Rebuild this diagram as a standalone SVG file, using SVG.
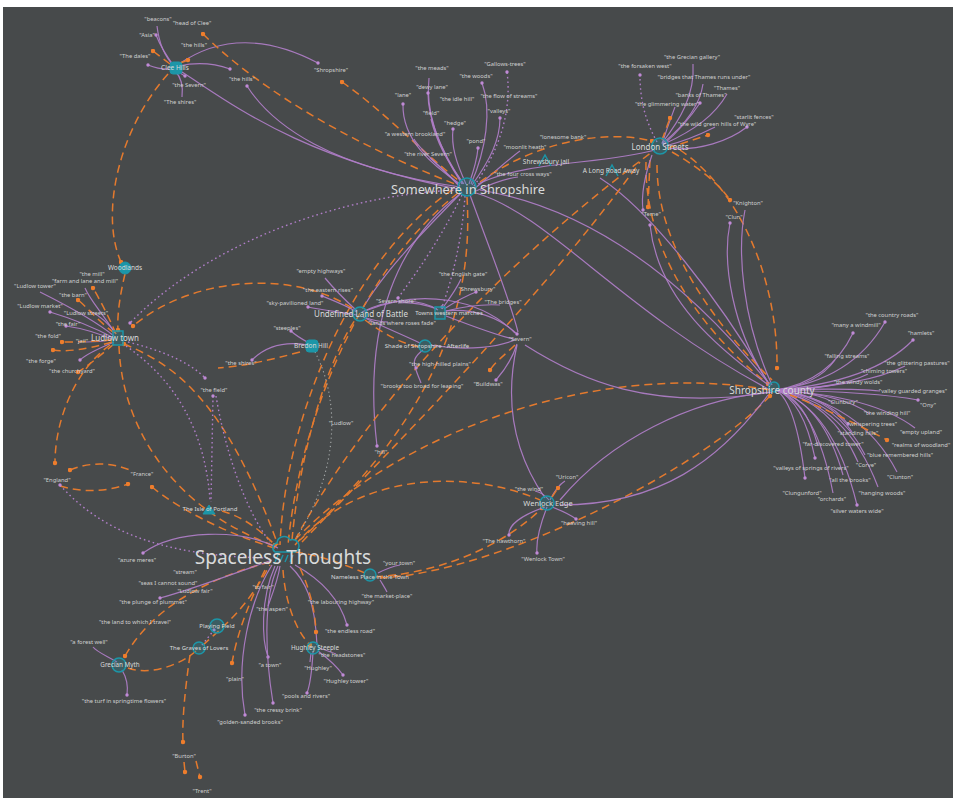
<svg xmlns="http://www.w3.org/2000/svg" width="953" height="798" viewBox="0 0 953 798">
<defs>
<style>
.p{fill:none;stroke:#b07ec8;stroke-width:1.2;stroke-opacity:.92}
.o{fill:none;stroke:#e47a2e;stroke-width:1.5;stroke-dasharray:8 5}
.d{fill:none;stroke:#b07ec8;stroke-width:1.4;stroke-dasharray:1.6 3}
.g{fill:none;stroke:#a7abab;stroke-width:1.1;stroke-dasharray:1.2 3}
text{font-family:"Noto Sans","DejaVu Sans",sans-serif;text-anchor:middle;font-weight:normal}
.t{font-size:5.8px;fill:#cfd0d0}
.n{fill:#d9dada}
.ring{fill:#1c96a8;fill-opacity:.25;stroke:#1c96a8;stroke-width:1.5}
.solid{fill:#1c96a8;stroke:#1c96a8;stroke-width:1}
</style>
<marker id="mp" viewBox="0 0 4 4" refX="2" refY="2" markerWidth="4" markerHeight="4" markerUnits="userSpaceOnUse"><circle cx="2" cy="2" r="1.7" fill="#c08ad6"/></marker>
<marker id="mo" viewBox="0 0 5 5" refX="2.5" refY="2.5" markerWidth="5" markerHeight="5" markerUnits="userSpaceOnUse"><circle cx="2.5" cy="2.5" r="2.2" fill="#ee7d2c"/></marker>
</defs>
<rect x="0" y="0" width="953" height="798" fill="#ffffff"/>
<rect x="3" y="7" width="950" height="791" fill="#474a4b"/>

<g id="connectors">
<path class="p" d="M174,66 Q160,52 157,26"/>
<path class="p" d="M174,66 Q162,50 156,35" marker-end="url(#mp)"/>
<path class="p" d="M172,69 Q160,70 148,65" marker-end="url(#mp)"/>
<path class="p" d="M175,71 Q184,80 182,97"/>
<path class="p" d="M176,71 Q182,74 185,76" marker-end="url(#mp)"/>
<path class="p" d="M179,66 Q205,60 230,69" marker-end="url(#mp)"/>
<path class="p" d="M179,64 Q240,22 318,63" marker-end="url(#mp)"/>
<path class="p" d="M247,86 C272,125 330,168 460,187" marker-start="url(#mp)"/>
<path class="p" d="M182,72 C232,104 300,158 458,189"/>
<path class="o" d="M168,74 C118,130 100,215 121,262" marker-end="url(#mo)"/>
<path class="o" d="M125,274 C120,295 117,315 118,330" marker-end="url(#mo)"/>
<path class="o" d="M119,346 C122,430 175,510 275,546"/>
<path class="o" d="M203,34 C250,80 330,135 455,184" marker-start="url(#mo)"/>
<path class="o" d="M342,82 C380,108 420,150 458,180" marker-start="url(#mo)"/>
<path class="o" d="M170,64 L153,51" marker-end="url(#mo)"/>
<path class="o" d="M180,63 L188,60" marker-end="url(#mo)"/>
<path class="p" d="M460,184 C432,165 402,140 403,104" marker-end="url(#mp)"/>
<path class="p" d="M462,184 C440,150 425,112 429,78"/>
<path class="p" d="M463,184 C442,152 428,122 428,93" marker-end="url(#mp)"/>
<path class="p" d="M464,184 C447,162 436,140 431,119"/>
<path class="p" d="M466,184 C456,162 451,146 453,129" marker-end="url(#mp)"/>
<path class="p" d="M469,184 C474,170 477,160 478,148" marker-end="url(#mp)"/>
<path class="p" d="M471,184 C486,150 492,110 482,83" marker-end="url(#mp)"/>
<path class="p" d="M472,185 C490,160 500,140 500,118" marker-end="url(#mp)"/>
<path class="d" d="M474,186 C500,150 512,110 507,72" marker-end="url(#mp)"/>
<path class="p" d="M474,189 C495,172 510,158 520,151"/>
<path class="p" d="M476,191 C495,182 508,178 518,177"/>
<path class="p" d="M460,186 C446,172 436,163 430,158"/>
<path class="p" d="M459,186 C440,166 420,150 414,139"/>
<path class="o" d="M480,182 C530,145 600,128 652,141" marker-end="url(#mo)"/>
<path class="p" d="M478,184 C530,160 600,165 655,150"/>
<path class="d" d="M458,190 C330,195 200,250 130,323" marker-end="url(#mp)"/>
<path class="p" d="M462,192 C425,230 385,270 363,308"/>
<path class="p" d="M460,194 C400,240 362,320 377,446" marker-end="url(#mp)"/>
<path class="d" d="M465,196 C462,240 452,280 442,307" marker-end="url(#mp)"/>
<path class="d" d="M462,195 C440,240 415,275 398,298" marker-end="url(#mp)"/>
<path class="o" d="M467,197 C472,280 455,400 300,540"/>
<path class="o" d="M458,193 C360,270 300,420 288,545"/>
<path class="o" d="M452,190 C350,260 285,420 280,545"/>
<path class="p" d="M470,195 C490,250 510,300 518,332"/>
<path class="p" d="M480,190 C570,205 670,260 770,385"/>
<path class="p" d="M476,193 C550,215 620,310 770,390"/>
<path class="p" d="M600,178 C650,210 720,300 770,386"/>
<path class="p" d="M662,143 C680,120 695,95 693,64"/>
<path class="p" d="M663,143 C685,125 700,105 703,84"/>
<path class="p" d="M664,144 C695,130 715,115 727,94"/>
<path class="p" d="M663,145 C680,130 692,115 700,103" marker-end="url(#mp)"/>
<path class="p" d="M665,148 C700,152 730,140 747,127" marker-end="url(#mp)"/>
<path class="p" d="M665,146 C690,140 705,132 715,127"/>
<path class="p" d="M662,144 C668,125 672,115 675,107"/>
<path class="d" d="M657,142 C645,120 640,100 640,75" marker-end="url(#mp)"/>
<path class="o" d="M662,140 L670,118" marker-end="url(#mo)"/>
<path class="o" d="M668,148 L708,135" marker-end="url(#mo)"/>
<path class="o" d="M646,162 C644,250 700,330 768,384" marker-end="url(#mo)"/>
<path class="o" d="M657,165 C657,250 720,330 772,380"/>
<path class="o" d="M680,150 C740,190 778,280 777,368" marker-end="url(#mo)"/>
<path class="o" d="M672,152 C700,168 720,185 730,200" marker-end="url(#mo)"/>
<path class="o" d="M650,160 L648,207" marker-end="url(#mo)"/>
<path class="p" d="M652,155 C645,175 641,195 643,210" marker-end="url(#mp)"/>
<path class="p" d="M650,225 C658,300 720,350 770,386" marker-start="url(#mp)"/>
<path class="p" d="M770,385 C732,330 722,262 730,223" marker-end="url(#mp)"/>
<path class="p" d="M772,385 C742,320 737,250 745,210"/>
<path class="o" d="M295,540 C360,420 480,280 652,152"/>
<path class="o" d="M302,542 C400,440 540,300 640,162"/>
<path class="o" d="M295,540 C400,430 600,360 770,390"/>
<path class="o" d="M380,578 C500,572 700,470 770,396" marker-end="url(#mo)"/>
<path class="p" d="M768,395 C720,460 660,505 560,505"/>
<path class="p" d="M525,345 C580,380 650,412 772,392"/>
<path class="p" d="M560,500 C610,440 690,400 770,392"/>
<path class="p" d="M776,390 Q852,380 885,322" marker-end="url(#mp)"/>
<path class="p" d="M776,390 Q830,381 853,333" marker-end="url(#mp)"/>
<path class="p" d="M776,390 Q872,382 913,340" marker-end="url(#mp)"/>
<path class="p" d="M776,390 Q817,385 835,360"/>
<path class="p" d="M776,390 Q866,386 905,366"/>
<path class="p" d="M776,390 Q840,388 868,374"/>
<path class="p" d="M776,390 Q819,389 838,384"/>
<path class="p" d="M776,390 Q850,388 880,391"/>
<path class="p" d="M776,390 Q817,392 834,403"/>
<path class="p" d="M776,390 Q875,392 918,400" marker-end="url(#mp)"/>
<path class="p" d="M776,390 Q842,394 870,414"/>
<path class="p" d="M776,390 Q826,395 848,424" marker-end="url(#mp)"/>
<path class="p" d="M776,390 Q873,396 915,428"/>
<path class="p" d="M776,390 Q829,396 852,432"/>
<path class="p" d="M776,390 Q805,398 818,446"/>
<path class="p" d="M776,390 Q838,400 865,455"/>
<path class="p" d="M776,390 Q831,401 858,462"/>
<path class="p" d="M776,390 Q803,400 815,458" marker-end="url(#mp)"/>
<path class="p" d="M776,390 Q861,402 897,472"/>
<path class="p" d="M776,390 Q823,403 843,475"/>
<path class="p" d="M776,390 Q796,403 805,478" marker-end="url(#mp)"/>
<path class="p" d="M776,390 Q847,405 878,487"/>
<path class="p" d="M776,390 Q816,405 833,493"/>
<path class="p" d="M776,390 Q833,407 857,505" marker-end="url(#mp)"/>
<path class="o" d="M790,395 Q830,410 887,440" marker-end="url(#mo)"/>
<path class="p" d="M357,311 C345,300 335,290 325,278"/>
<path class="p" d="M357,312 C345,305 332,300 322,296" marker-end="url(#mp)"/>
<path class="p" d="M357,315 C340,312 322,310 308,307" marker-end="url(#mp)"/>
<path class="p" d="M363,317 C372,320 380,322 388,322"/>
<path class="p" d="M362,312 C390,298 420,298 438,310"/>
<path class="p" d="M365,311 C420,288 480,298 515,333"/>
<path class="p" d="M445,311 C475,308 500,318 517,334" marker-end="url(#mp)"/>
<path class="p" d="M446,316 C472,326 498,336 514,339"/>
<path class="p" d="M365,318 C382,326 398,333 420,343"/>
<path class="o" d="M352,308 C290,268 190,278 133,326" marker-end="url(#mo)"/>
<path class="o" d="M365,320 C385,335 405,345 420,347"/>
<path class="o" d="M292,540 C300,450 328,360 355,320"/>
<path class="p" d="M442,309 C450,298 457,288 461,279"/>
<path class="p" d="M444,309 C458,300 468,295 476,292" marker-end="url(#mp)"/>
<path class="p" d="M446,311 C470,305 485,304 500,305"/>
<path class="p" d="M437,309 C420,303 408,302 398,303"/>
<path class="p" d="M423,350 C415,356 412,362 416,368" marker-end="url(#mp)"/>
<path class="p" d="M416,370 C418,376 420,380 421,383"/>
<path class="p" d="M430,345 C470,352 500,346 515,340"/>
<path class="p" d="M517,344 C512,360 503,372 496,380" marker-end="url(#mp)"/>
<path class="p" d="M517,345 C508,385 505,440 545,498"/>
<path class="o" d="M515,345 C505,355 495,362 490,370" marker-end="url(#mo)"/>
<path class="p" d="M308,345 C280,340 262,350 252,360" marker-end="url(#mp)"/>
<path class="p" d="M309,343 C300,338 294,334 291,331" marker-end="url(#mp)"/>
<path class="o" d="M300,352 C270,360 245,366 218,368"/>
<path class="g" d="M315,352 C340,400 340,470 295,540"/>
<path class="p" d="M114,336 C92,318 60,302 40,292"/>
<path class="p" d="M114,338 C95,328 70,318 50,312" marker-end="url(#mp)"/>
<path class="p" d="M114,340 C98,333 80,328 66,326" marker-end="url(#mp)"/>
<path class="p" d="M116,334 C108,322 98,315 90,311"/>
<path class="p" d="M115,333 C100,310 90,300 85,288"/>
<path class="p" d="M114,342 C95,350 85,355 80,360" marker-end="url(#mp)"/>
<path class="p" d="M112,340 C100,342 92,342 86,342"/>
<path class="o" d="M116,334 C108,315 100,300 93,288" marker-end="url(#mo)"/>
<path class="o" d="M114,333 C95,318 85,305 78,300" marker-end="url(#mo)"/>
<path class="o" d="M112,340 C85,342 70,342 62,342" marker-end="url(#mo)"/>
<path class="o" d="M112,342 C85,350 65,352 53,350" marker-end="url(#mo)"/>
<path class="o" d="M114,344 C95,360 85,368 78,372" marker-end="url(#mo)"/>
<path class="o" d="M110,345 C75,370 55,420 55,463" marker-end="url(#mo)"/>
<path class="d" d="M128,342 C160,350 190,362 205,378" marker-end="url(#mp)"/>
<path class="o" d="M124,344 C175,365 225,400 278,545" marker-start="url(#mo)"/>
<path class="d" d="M126,346 C175,380 205,430 210,500"/>
<path class="o" d="M70,470 Q100,458 130,470" marker-start="url(#mo)"/>
<path class="o" d="M60,486 Q95,496 128,484" marker-end="url(#mo)"/>
<path class="o" d="M152,487 C180,510 230,535 275,548" marker-start="url(#mo)"/>
<path class="d" d="M60,485 C100,530 160,556 268,558" marker-start="url(#mp)"/>
<path class="d" d="M213,396 L211,502" marker-start="url(#mp)"/>
<path class="d" d="M216,396 C225,450 245,510 270,542"/>
<path class="o" d="M222,511 C240,516 256,526 275,545" marker-end="url(#mo)"/>
<path class="p" d="M278,548 C240,528 175,530 143,553" marker-end="url(#mp)"/>
<path class="o" d="M270,562 C200,580 150,612 125,656" marker-end="url(#mo)"/>
<path class="p" d="M117,662 C105,655 97,652 93,647"/>
<path class="p" d="M122,670 C128,680 128,688 127,695" marker-end="url(#mp)"/>
<path class="o" d="M128,668 C150,676 180,665 196,651"/>
<path class="o" d="M203,645 C225,625 245,610 270,565"/>
<path class="d" d="M202,645 L214,630" marker-end="url(#mp)"/>
<path class="o" d="M190,655 C185,690 182,720 183,742" marker-end="url(#mo)"/>
<path class="o" d="M184,762 L185,772" marker-end="url(#mo)"/>
<path class="o" d="M196,761 L200,777" marker-end="url(#mo)"/>
<path class="p" d="M272,565 C250,600 235,660 245,715" marker-end="url(#mp)"/>
<path class="p" d="M275,566 C260,600 262,640 268,657" marker-end="url(#mp)"/>
<path class="p" d="M278,566 C262,600 266,660 273,703" marker-end="url(#mp)"/>
<path class="o" d="M265,570 C245,610 236,640 232,663" marker-end="url(#mo)"/>
<path class="p" d="M280,566 C278,580 272,595 268,606"/>
<path class="p" d="M272,560 C230,575 190,590 160,598" marker-end="url(#mp)"/>
<path class="p" d="M313,652 C312,670 310,685 307,693" marker-end="url(#mp)"/>
<path class="o" d="M283,570 C285,600 295,630 310,645" marker-end="url(#mo)"/>
<path class="p" d="M318,651 C330,660 338,668 343,675" marker-end="url(#mp)"/>
<path class="p" d="M319,648 C325,650 331,652 336,654"/>
<path class="p" d="M311,653 L310,662"/>
<path class="p" d="M295,565 C322,580 340,600 347,625" marker-end="url(#mp)"/>
<path class="p" d="M290,566 C305,580 315,600 317,645"/>
<path class="o" d="M300,568 C310,590 315,610 316,632" marker-end="url(#mo)"/>
<path class="p" d="M380,580 C383,585 385,588 387,592"/>
<path class="p" d="M378,573 C388,568 394,566 400,565"/>
<path class="o" d="M295,552 C320,555 345,565 365,573"/>
<path class="o" d="M375,577 C450,572 510,540 542,508" marker-end="url(#mo)"/>
<path class="o" d="M295,545 C360,470 470,470 540,500"/>
<path class="p" d="M550,500 C555,490 560,484 565,481"/>
<path class="p" d="M549,500 C545,495 540,492 535,491"/>
<path class="p" d="M552,507 C565,512 572,516 576,519" marker-end="url(#mp)"/>
<path class="p" d="M545,507 C522,515 508,525 509,535" marker-end="url(#mp)"/>
<path class="p" d="M547,507 C540,525 536,542 537,553" marker-end="url(#mp)"/>
<path class="o" d="M552,497 L558,488" marker-end="url(#mo)"/>
</g>

<g id="clee-hills"><rect class="solid" x="170" y="62" width="12" height="12" rx="3"/><text class="n" x="175" y="70" font-size="6.5">Clee Hills</text></g>
<g id="somewhere-in-shropshire"><circle class="ring" cx="467" cy="187" r="9"/><text class="n" x="468" y="194" font-size="12.8">Somewhere in Shropshire</text></g>
<g id="shrewsbury-jail"><path d="M539,166 L545,155 L551,166" fill="none" stroke="#1c96a8" stroke-width="1.5"/><text class="n" x="546" y="164" font-size="6.5">Shrewsbury jail</text></g>
<g id="long-road-away"><path d="M606,176 L612,165 L618,176" fill="none" stroke="#1c96a8" stroke-width="1.5"/><text class="n" x="611" y="173" font-size="6.5">A Long Road Away</text></g>
<g id="london-streets"><circle class="ring" cx="660" cy="146" r="8"/><text class="n" x="660" y="150" font-size="8">London Streets</text></g>
<g id="woodlands"><circle class="solid" cx="125" cy="268" r="6"/><text class="n" x="125" y="270" font-size="6.5">Woodlands</text></g>
<g id="ludlow-town"><rect x="113" y="331" width="10" height="14" fill="#1c96a8" fill-opacity=".25" stroke="#1c96a8" stroke-width="1.5"/><text class="n" x="115" y="341" font-size="8">Ludlow town</text></g>
<g id="bredon-hill"><rect class="solid" x="306" y="340" width="12" height="12" rx="3"/><text class="n" x="311" y="348" font-size="6.5">Bredon Hill</text></g>
<g id="undefined-land"><circle class="ring" cx="360" cy="314" r="7"/><text class="n" x="361" y="317" font-size="8">Undefined Land of Battle</text></g>
<g id="town-western"><rect x="435" y="307" width="10" height="12" fill="#1c96a8" fill-opacity=".25" stroke="#1c96a8" stroke-width="1.5"/><text class="n" x="449" y="315" font-size="6">Towns western marches</text></g>
<g id="shade-of-shropshire"><circle class="ring" cx="425" cy="346" r="6"/><text class="n" x="427" y="348" font-size="6">Shade of Shropshire - Afterlife</text></g>
<g id="shropshire-county"><circle class="ring" cx="774" cy="387" r="5"/><text class="n" x="772" y="394" font-size="10">Shropshire county</text></g>
<g id="wenlock-edge"><circle class="ring" cx="547" cy="503" r="7"/><text class="n" x="548" y="506" font-size="7.5">Wenlock Edge</text></g>
<g id="isle-of-portland"><path d="M203,514 L209,505 L215,514 Z" class="solid"/><text class="n" x="210" y="511" font-size="6">The Isle of Portland</text></g>
<g id="spaceless-thoughts"><path d="M275,552 a5,5 0 0 1 2,-9 a7,7 0 0 1 13,-3 a6,6 0 0 1 5,12 Z" fill="none" stroke="#1c96a8" stroke-width="1.5"/><path d="M278,555 l-3,7 M283,555 l-3,7 M288,555 l-3,7 M293,555 l-3,7" stroke="#1c96a8" stroke-width="1.4"/><text class="n" x="283" y="564" font-size="19">Spaceless Thoughts</text></g>
<g id="nameless-place"><circle class="ring" cx="370" cy="575" r="6"/><text class="n" x="370" y="579" font-size="6">Nameless Place in the Town</text></g>
<g id="playing-field"><circle class="ring" cx="217" cy="626" r="7"/><text class="n" x="217" y="628" font-size="6">Playing Field</text></g>
<g id="graves-of-lovers"><circle class="ring" cx="199" cy="648" r="6"/><text class="n" x="199" y="650" font-size="6">The Graves of Lovers</text></g>
<g id="grecian-myth"><circle class="ring" cx="119" cy="665" r="7"/><text class="n" x="120" y="667" font-size="6.3">Grecian Myth</text></g>
<g id="hughley-steeple"><circle class="ring" cx="313" cy="648" r="6"/><text class="n" x="315" y="650" font-size="6.3">Hughley Steeple</text></g>

<g id="leaf-labels">
<g id="l1"><text class="t" x="158" y="21">"beacons"</text></g>
<g id="l2"><text class="t" x="192" y="25">"head of Clee"</text></g>
<g id="l3"><text class="t" x="147" y="37">"Asia"</text></g>
<g id="l4"><text class="t" x="194" y="47">"the hills"</text></g>
<g id="l5"><text class="t" x="135" y="58">"The dales"</text></g>
<g id="l6"><text class="t" x="189" y="87">"the Severn"</text></g>
<g id="l7"><text class="t" x="180" y="104">"The shires"</text></g>
<g id="l8"><text class="t" x="242" y="81">"the hills"</text></g>
<g id="l9"><text class="t" x="331" y="72">"Shropshire"</text></g>
<g id="l10"><text class="t" x="432" y="70">"the meads"</text></g>
<g id="l11"><text class="t" x="505" y="66">"Gallows-trees"</text></g>
<g id="l12"><text class="t" x="476" y="78">"the woods"</text></g>
<g id="l13"><text class="t" x="432" y="89">"dewy lane"</text></g>
<g id="l14"><text class="t" x="403" y="97">"lane"</text></g>
<g id="l15"><text class="t" x="457" y="101">"the idle hill"</text></g>
<g id="l16"><text class="t" x="509" y="98">"the flow of streams"</text></g>
<g id="l17"><text class="t" x="431" y="115">"field"</text></g>
<g id="l18"><text class="t" x="499" y="113">"valleys"</text></g>
<g id="l19"><text class="t" x="455" y="125">"hedge"</text></g>
<g id="l20"><text class="t" x="415" y="136">"a western brookland"</text></g>
<g id="l21"><text class="t" x="476" y="143">"pond"</text></g>
<g id="l22"><text class="t" x="563" y="139">"lonesome bank"</text></g>
<g id="l23"><text class="t" x="428" y="156">"the river Severn"</text></g>
<g id="l24"><text class="t" x="525" y="149">"moonlit heath"</text></g>
<g id="l25"><text class="t" x="523" y="176">"the four cross ways"</text></g>
<g id="l26"><text class="t" x="645" y="68">"the forsaken west"</text></g>
<g id="l27"><text class="t" x="692" y="59">"the Grecian gallery"</text></g>
<g id="l28"><text class="t" x="704" y="79">"bridges that Thames runs under"</text></g>
<g id="l29"><text class="t" x="727" y="90">"Thames"</text></g>
<g id="l30"><text class="t" x="701" y="97">"banks of Thames"</text></g>
<g id="l31"><text class="t" x="667" y="106">"the glimmering water"</text></g>
<g id="l32"><text class="t" x="754" y="119">"starlit fences"</text></g>
<g id="l33"><text class="t" x="717" y="126">"the wild green hills of Wyre"</text></g>
<g id="l34"><text class="t" x="92" y="276">"the mill"</text></g>
<g id="l35"><text class="t" x="85" y="283">"farm and lane and mill"</text></g>
<g id="l36"><text class="t" x="35" y="288">"Ludlow tower"</text></g>
<g id="l37"><text class="t" x="73" y="297">"the barn"</text></g>
<g id="l38"><text class="t" x="40" y="308">"Ludlow market"</text></g>
<g id="l39"><text class="t" x="86" y="315">"Ludlow streets"</text></g>
<g id="l40"><text class="t" x="68" y="326">"the fair"</text></g>
<g id="l41"><text class="t" x="48" y="338">"the fold"</text></g>
<g id="l42"><text class="t" x="82" y="343">"jail"</text></g>
<g id="l43"><text class="t" x="41" y="363">"the forge"</text></g>
<g id="l44"><text class="t" x="72" y="373">"the churchyard"</text></g>
<g id="l45"><text class="t" x="241" y="365">"the shires"</text></g>
<g id="l46"><text class="t" x="287" y="330">"steeples"</text></g>
<g id="l47"><text class="t" x="321" y="273">"empty highways"</text></g>
<g id="l48"><text class="t" x="328" y="292">"the eastern rises"</text></g>
<g id="l49"><text class="t" x="295" y="305">"sky-pavilioned land"</text></g>
<g id="l50"><text class="t" x="214" y="392">"the field"</text></g>
<g id="l51"><text class="t" x="463" y="276">"the English gate"</text></g>
<g id="l52"><text class="t" x="477" y="291">"Shrewsbury"</text></g>
<g id="l53"><text class="t" x="396" y="303">"Severn shore"</text></g>
<g id="l54"><text class="t" x="503" y="304">"The bridges"</text></g>
<g id="l55"><text class="t" x="402" y="325">"lands where roses fade"</text></g>
<g id="l56"><text class="t" x="520" y="341">"Severn"</text></g>
<g id="l57"><text class="t" x="440" y="366">"the high-hilled plains"</text></g>
<g id="l58"><text class="t" x="422" y="388">"brooks too broad for leaping"</text></g>
<g id="l59"><text class="t" x="488" y="386">"Buildwas"</text></g>
<g id="l60"><text class="t" x="651" y="216">"Teme"</text></g>
<g id="l61"><text class="t" x="748" y="205">"Knighton"</text></g>
<g id="l62"><text class="t" x="734" y="219">"Clun"</text></g>
<g id="l63"><text class="t" x="892" y="317">"the country roads"</text></g>
<g id="l64"><text class="t" x="856" y="327">"many a windmill"</text></g>
<g id="l65"><text class="t" x="921" y="335">"hamlets"</text></g>
<g id="l66"><text class="t" x="847" y="358">"falling streams"</text></g>
<g id="l67"><text class="t" x="917" y="365">"the glittering pastures"</text></g>
<g id="l68"><text class="t" x="884" y="373">"chiming towers"</text></g>
<g id="l69"><text class="t" x="858" y="384">"the windy wolds"</text></g>
<g id="l70"><text class="t" x="913" y="393">"valley guarded granges"</text></g>
<g id="l71"><text class="t" x="843" y="404">"Clunbury"</text></g>
<g id="l72"><text class="t" x="928" y="407">"Ony"</text></g>
<g id="l73"><text class="t" x="887" y="415">"the winding hill"</text></g>
<g id="l74"><text class="t" x="872" y="426">"whispering trees"</text></g>
<g id="l75"><text class="t" x="858" y="435">"standing hills"</text></g>
<g id="l76"><text class="t" x="921" y="434">"empty upland"</text></g>
<g id="l77"><text class="t" x="833" y="446">"far-discovered tower"</text></g>
<g id="l78"><text class="t" x="921" y="447">"realms of woodland"</text></g>
<g id="l79"><text class="t" x="900" y="457">"blue remembered hills"</text></g>
<g id="l80"><text class="t" x="866" y="467">"Corve"</text></g>
<g id="l81"><text class="t" x="811" y="470">"valleys of springs of rivers"</text></g>
<g id="l82"><text class="t" x="900" y="479">"Clunton"</text></g>
<g id="l83"><text class="t" x="850" y="482">"all the brooks"</text></g>
<g id="l84"><text class="t" x="802" y="495">"Clungunford"</text></g>
<g id="l85"><text class="t" x="882" y="495">"hanging woods"</text></g>
<g id="l86"><text class="t" x="832" y="501">"orchards"</text></g>
<g id="l87"><text class="t" x="857" y="513">"silver waters wide"</text></g>
<g id="l88"><text class="t" x="57" y="482">"England"</text></g>
<g id="l89"><text class="t" x="142" y="476">"France"</text></g>
<g id="l90"><text class="t" x="137" y="562">"azure meres"</text></g>
<g id="l91"><text class="t" x="185" y="574">"stream"</text></g>
<g id="l92"><text class="t" x="168" y="585">"seas I cannot sound"</text></g>
<g id="l93"><text class="t" x="263" y="589">"to fair"</text></g>
<g id="l94"><text class="t" x="195" y="593">"Ludlow fair"</text></g>
<g id="l95"><text class="t" x="153" y="604">"the plunge of plummet"</text></g>
<g id="l96"><text class="t" x="272" y="611">"the aspen"</text></g>
<g id="l97"><text class="t" x="135" y="624">"the land to which I travel"</text></g>
<g id="l98"><text class="t" x="89" y="644">"a forest well"</text></g>
<g id="l99"><text class="t" x="270" y="667">"a town"</text></g>
<g id="l100"><text class="t" x="235" y="681">"plain"</text></g>
<g id="l101"><text class="t" x="124" y="703">"the turf in springtime flowers"</text></g>
<g id="l102"><text class="t" x="306" y="698">"pools and rivers"</text></g>
<g id="l103"><text class="t" x="278" y="712">"the cressy brink"</text></g>
<g id="l104"><text class="t" x="250" y="724">"golden-sanded brooks"</text></g>
<g id="l105"><text class="t" x="184" y="758">"Burton"</text></g>
<g id="l106"><text class="t" x="202" y="793">"Trent"</text></g>
<g id="l107"><text class="t" x="387" y="598">"the market-place"</text></g>
<g id="l108"><text class="t" x="341" y="604">"the labouring highway"</text></g>
<g id="l109"><text class="t" x="350" y="633">"the endless road"</text></g>
<g id="l110"><text class="t" x="342" y="657">"the headstones"</text></g>
<g id="l111"><text class="t" x="318" y="670">"Hughley"</text></g>
<g id="l112"><text class="t" x="346" y="683">"Hughley tower"</text></g>
<g id="l113"><text class="t" x="341" y="425">"Ludlow"</text></g>
<g id="l114"><text class="t" x="381" y="454">"hill"</text></g>
<g id="l115"><text class="t" x="567" y="479">"Uricon"</text></g>
<g id="l116"><text class="t" x="529" y="491">"the wind"</text></g>
<g id="l117"><text class="t" x="579" y="525">"heaving hill"</text></g>
<g id="l118"><text class="t" x="504" y="543">"The hawthorn"</text></g>
<g id="l119"><text class="t" x="543" y="561">"Wenlock Town"</text></g>
<g id="l120"><text class="t" x="399" y="565">"your town"</text></g>
</g>
</svg>
